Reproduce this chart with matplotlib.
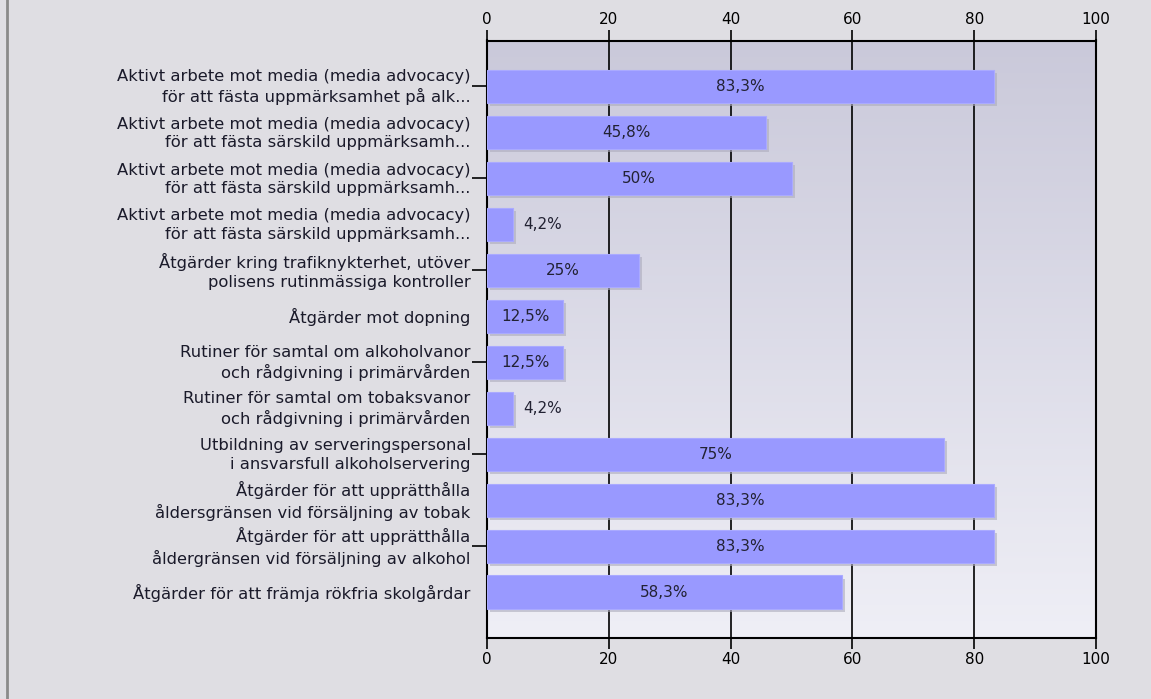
import numpy as np
import matplotlib
matplotlib.use("Agg")
import matplotlib.pyplot as plt
from matplotlib.lines import Line2D

categories = [
    "Aktivt arbete mot media (media advocacy)\nför att fästa uppmärksamhet på alk...",
    "Aktivt arbete mot media (media advocacy)\nför att fästa särskild uppmärksamh...",
    "Aktivt arbete mot media (media advocacy)\nför att fästa särskild uppmärksamh...",
    "Aktivt arbete mot media (media advocacy)\nför att fästa särskild uppmärksamh...",
    "Åtgärder kring trafiknykterhet, utöver\npolisens rutinmässiga kontroller",
    "Åtgärder mot dopning",
    "Rutiner för samtal om alkoholvanor\noch rådgivning i primärvården",
    "Rutiner för samtal om tobaksvanor\noch rådgivning i primärvården",
    "Utbildning av serveringspersonal\ni ansvarsfull alkoholservering",
    "Åtgärder för att upprätthålla\nåldersgränsen vid försäljning av tobak",
    "Åtgärder för att upprätthålla\nåldergränsen vid försäljning av alkohol",
    "Åtgärder för att främja rökfria skolgårdar",
]
values = [83.3, 45.8, 50, 4.2, 25, 12.5, 12.5, 4.2, 75, 83.3, 83.3, 58.3]
value_labels = ["83,3%", "45,8%", "50%", "4,2%", "25%", "12,5%", "12,5%",
                "4,2%", "75%", "83,3%", "83,3%", "58,3%"]
xticks = [0, 20, 40, 60, 80, 100]

bg = "#dfdee3"
fig = plt.figure(figsize=(11.51, 6.99), dpi=100, facecolor=bg)
ax = fig.add_axes([487 / 1151, 1 - 638 / 699, 609 / 1151, (638 - 40.5) / 699])

# left border of the panel
fig.add_artist(Line2D([7 / 1151, 7 / 1151], [0, 1], color="#8a8a8a", lw=2,
                      transform=fig.transFigure))

n = len(categories)
y = np.arange(n)
ax.set_xlim(0, 100)
ax.set_ylim(n, -1)

# gradient background
grad = np.linspace(0, 1, 256).reshape(-1, 1)
cmap = matplotlib.colors.LinearSegmentedColormap.from_list("g", ["#cac9da", "#efeff6"])
ax.imshow(grad, cmap=cmap, aspect="auto", extent=[0, 100, n, -1], zorder=0)

# grid lines
for xv in xticks[1:-1]:
    ax.axvline(xv, color="black", lw=1.2, zorder=1)

h = 0.72
# shadows
ax.barh(y + 0.07, values, height=h, left=0.5, color="#adacbc", alpha=0.6,
        zorder=2, linewidth=0)
ax.barh(y, values, height=h, color="#9999ff", edgecolor="#aaaaff",
        linewidth=0.8, zorder=3)

for yi, v, lab in zip(y, values, value_labels):
    if v > 10:
        ax.text(v / 2, yi, lab, ha="center", va="center", fontsize=11,
                color="#222233", zorder=4)
    else:
        ax.text(v + 1.8, yi, lab, ha="left", va="center", fontsize=11,
                color="#222233", zorder=4)

ax.set_xticks(xticks)
ax.tick_params(axis="x", which="both", top=True, labeltop=True, bottom=True,
               labelbottom=True, direction="out", length=8, width=1.2,
               labelsize=11, colors="black", pad=2)
ax.set_yticks(y[::2])
ax.set_yticklabels([])
ax.tick_params(axis="y", direction="out", length=11, width=1.2)

# category labels at every row
for yi, c in zip(y, categories):
    ax.text(-2.7, yi + 0.02, c, ha="right", va="center", fontsize=11.8,
            color="#1a1a2a", linespacing=1.3, transform=ax.transData)

for s in ax.spines.values():
    s.set_color("black")
    s.set_linewidth(1.5)

fig.savefig("out.png", dpi=100, facecolor=bg)
